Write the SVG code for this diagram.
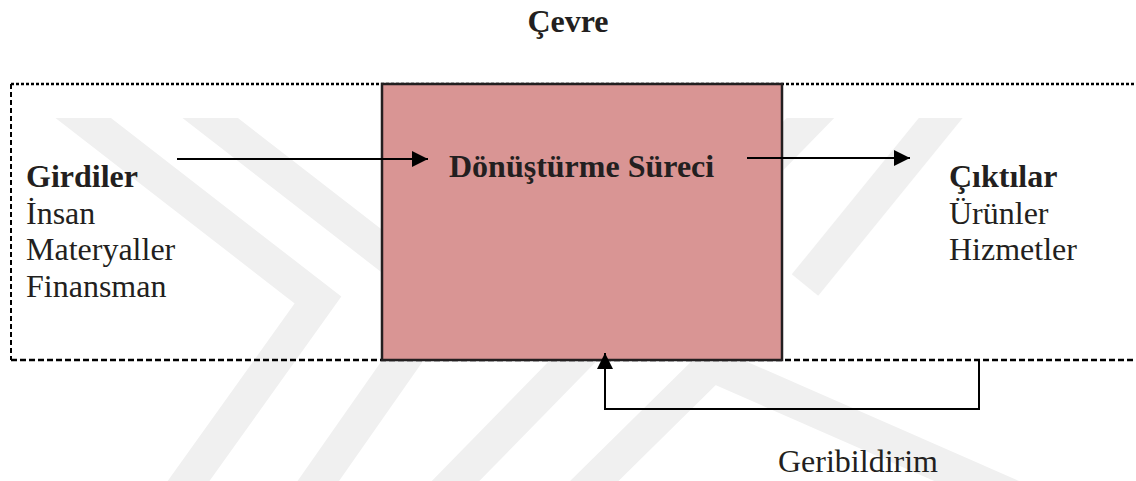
<svg xmlns="http://www.w3.org/2000/svg" width="1136" height="481" viewBox="0 0 1136 481">
  <defs>
    <marker id="arrowhead" viewBox="0 0 16 16" refX="16" refY="8" markerWidth="16" markerHeight="16" markerUnits="userSpaceOnUse" orient="auto">
      <path d="M0,0 L16,8 L0,16 Z" fill="#000"/>
    </marker>
    <clipPath id="backdrop-clip">
      <rect x="0" y="118" width="1136" height="363"/>
    </clipPath>
    <style>
      .label { font-family: "Liberation Serif", "Times New Roman", serif; font-size: 32px; fill: #231f20; }
      .bold { font-weight: bold; }
      .wm { fill: none; stroke: #f0f0f0; stroke-width: 34; stroke-linejoin: miter; stroke-linecap: butt; }
      .link { fill: none; stroke: #000; stroke-width: 2; }
    </style>
  </defs>

  <rect width="1136" height="481" fill="#fff"/>

  <!-- faint background mark -->
  <g id="backdrop" clip-path="url(#backdrop-clip)">
    <polyline class="wm" points="60,100 318,300 175,500"/>
    <polyline class="wm" points="187,100 445,300 305,500"/>
    <polyline class="wm" points="437,500 830,98"/>
    <polyline class="wm" points="575,500 712,365 1020,500"/>
    <polyline class="wm" points="957,98 805,285"/>
  </g>

  <!-- environment boundary -->
  <g id="environment">
    <line x1="11" y1="84" x2="1136" y2="84" stroke="#000" stroke-width="2.5" stroke-dasharray="3,2"/>
    <line x1="11" y1="84" x2="11" y2="360" stroke="#000" stroke-width="2" stroke-dasharray="5,3"/>
    <line x1="11" y1="360" x2="1136" y2="360" stroke="#000" stroke-width="2.5" stroke-dasharray="6,3"/>
    <text class="label bold" x="568" y="32" text-anchor="middle">Çevre</text>
  </g>

  <!-- transformation process -->
  <g id="process">
    <rect x="382" y="84" width="400" height="276" fill="#d99594" stroke="#231f20" stroke-width="2.5"/>
    <text class="label bold" x="449" y="177">Dönüştürme Süreci</text>
  </g>

  <!-- inputs -->
  <g id="inputs">
    <text class="label bold" x="26" y="187">Girdiler</text>
    <text class="label" x="26" y="223.5">İnsan</text>
    <text class="label" x="26" y="260">Materyaller</text>
    <text class="label" x="26" y="296.5">Finansman</text>
  </g>

  <!-- outputs -->
  <g id="outputs">
    <text class="label bold" x="949" y="187">Çıktılar</text>
    <text class="label" x="949" y="223.5">Ürünler</text>
    <text class="label" x="949" y="260">Hizmetler</text>
  </g>

  <!-- feedback label -->
  <g id="feedback">
    <text class="label" x="778" y="472">Geribildirim</text>
  </g>

  <!-- connectors -->
  <g id="connectors">
    <line class="link" x1="177" y1="159" x2="428" y2="159" marker-end="url(#arrowhead)"/>
    <line class="link" x1="747" y1="158" x2="910" y2="158" marker-end="url(#arrowhead)"/>
    <polyline class="link" points="979,360 979,409 605,409 605,353" marker-end="url(#arrowhead)"/>
  </g>
</svg>
